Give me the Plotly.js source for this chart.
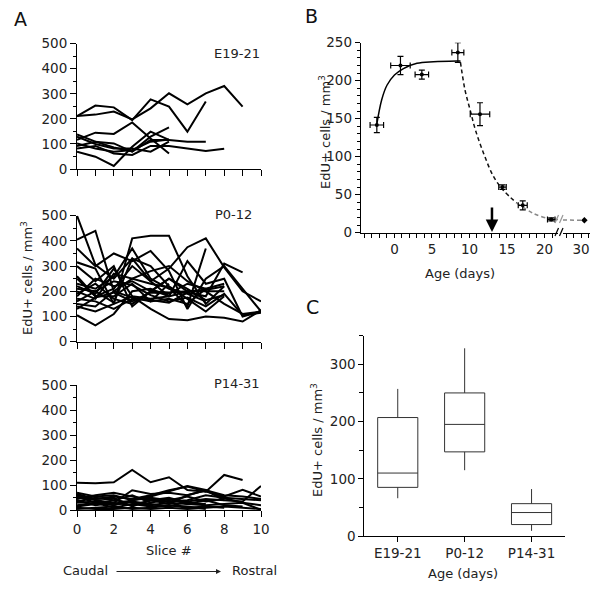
<!DOCTYPE html>
<html><head><meta charset="utf-8">
<script src="https://cdn.plot.ly/plotly-3.0.1.min.js"></script>
<style>html,body{margin:0;padding:0;background:#fff}#plot{width:604px;height:590px}</style>
</head><body><div id="plot"></div>
<script>
// ---------- Panel A: EdU+ density per slice ----------
const slices = [0,1,2,3,4,5,6,7,8,9,10];
const e19_21 = [
  [211,253,246,195,278,249,149,269],
  [211,217,229,198,242,302,258,302,331,249],
  [116,145,140,186,122,62],
  [138,109,86,70,129,166],
  [69,49,12,89,149,116],
  [92,109,102,69,116,116,109,109],
  [82,92,62,56,92,92,82,72,81],
  [129,100,82,82,69,109],
  [102,82,69,76,109,118]
];
const p0_12 = [
  [500,305,250,330,240,180],
  [405,440,200,175,160,230],
  [370,300,350,320,360,280,130,250,300,210,120],
  [315,290,150,410,420,420,260,150,220],
  [260,180,210,300,240,290,375,410,295,200,160],
  [230,210,258,370,250,210,190,160],
  [200,170,270,250,230,215,140,370],
  [180,250,220,240,200,195,200,205,220],
  [170,160,130,170,165,155,195,180,310,275],
  [140,120,150,180,130,90,85,100,95,80,125],
  [105,65,110,200,210,180,200,200,150,110,120],
  [220,190,290,180,170,180,320,230,250,100,120],
  [190,230,170,150,200,250,210,165,185],
  [150,140,200,250,280,300,240,200,200],
  [250,180,180,230,160,170,150,210,230],
  [210,200,155,330,300,220,170,120,180],
  [130,175,195,160,195,190,230,210],
  [300,240,300,140,200,250,200],
  [160,200,240,225,185,160,175,140,190,105,115]
];
const p14_31 = [
  [110,108,112,161,112,132,81,74,141,121],
  [70,55,60,40,55,75,97,81,48,30,2],
  [60,40,30,80,65,70,60,80,40,35,97],
  [50,45,55,45,60,80,95,75,55,82,55],
  [40,20,30,20,40,35,40,60,50,45,40],
  [20,30,10,25,15,20,10,15,10],
  [5,10,15,5,10,20,15,5],
  [35,50,40,60,30,45,25,40,20,15],
  [65,45,50,15,40,50,30,25],
  [10,5,5,10,5,10,5,10,15,10,5],
  [30,35,25,40,50,40,55,35,45],
  [45,60,70,55,40,25,60,80,60,55,45],
  [55,30,20,35,25,15,35,45,40],
  [15,25,40,30,20,30,25,20,25,30,20]
];
const groupLabels = ['E19-21','P0-12','P14-31'];

// ---------- Panel B: density vs age ----------
const ageX   = [-2.35, 0.8, 3.65, 8.45, 11.4, 14.4, 17.1, 20.9];
const ageY   = [141.7, 220, 208, 237, 156, 60, 36, 17.5];
const ageXErr= [0.9, 1.3, 0.9, 0.8, 1.3, 0.5, 0.6, 0.5];
const ageYErr= [10, 12, 6, 13, 15, 3, 6, 2];
const lateX = [30.45], lateY = [16.3];
const riseX = [-2.35,-1.7,-1.0,0,1.2,3.0,5.2,8.3,8.8];
const riseY = [143,175,194,207.5,216,222.9,225,226,226];
const decayX = [8.8,9.4,10.1,10.8,11.9,13.2,14.5,16.3];
const decayY = [224,188,161,135,104,74,56,39];
const tailX = [16.3,18.5,20.8,21.8];
const tailY = [39,25.5,18,17.5];
const tail2X = [27.6,30.45];
const tail2Y = [16.8,16.3];
const arrowAge = 13;

// ---------- Panel C: box summary ----------
const boxCats = ['E19-21','P0-12','P14-31'];
const boxLow  = [66, 115, 9];
const boxQ1   = [85, 147, 20];
const boxMed  = [110, 195, 41];
const boxQ3   = [207, 250, 56.5];
const boxHigh = [257, 328, 82];

const FONT = 'DejaVu Sans, Liberation Sans, Arial, sans-serif';
const W = 604, H = 590;
const px = v => v / W, py = v => (H - v) / H;

const traces = [];
function addGroup(arr, xa, ya){
  arr.forEach(vals => traces.push({
    x: slices.slice(0, vals.length), y: vals, xaxis: xa, yaxis: ya,
    mode: 'lines', line: {color: '#000', width: 2}, hoverinfo: 'skip', showlegend: false
  }));
}
addGroup(e19_21, 'x', 'y');
addGroup(p0_12, 'x2', 'y2');
addGroup(p14_31, 'x3', 'y3');

traces.push({x: riseX, y: riseY, xaxis: 'x4', yaxis: 'y4', mode: 'lines',
  line: {color: '#000', width: 1.5, shape: 'spline'}, showlegend: false});
traces.push({x: decayX, y: decayY, xaxis: 'x4', yaxis: 'y4', mode: 'lines',
  line: {color: '#111', width: 1.5, dash: '4px,3px', shape: 'spline'}, showlegend: false});
traces.push({x: tailX, y: tailY, xaxis: 'x4', yaxis: 'y4', mode: 'lines',
  line: {color: '#888', width: 1.5, dash: '4px,3px', shape: 'spline'}, showlegend: false});
traces.push({x: tail2X, y: tail2Y, xaxis: 'x5', yaxis: 'y4', mode: 'lines', cliponaxis: false,
  line: {color: '#888', width: 1.5, dash: '4px,3px'}, showlegend: false});
traces.push({x: ageX, y: ageY, xaxis: 'x4', yaxis: 'y4', mode: 'markers',
  marker: {color: '#000', size: 4},
  error_x: {type: 'data', array: ageXErr, visible: true, color: '#000', thickness: 1.2, width: 3},
  error_y: {type: 'data', array: ageYErr, visible: true, color: '#000', thickness: 1.2, width: 3},
  showlegend: false});
traces.push({x: lateX, y: lateY, xaxis: 'x5', yaxis: 'y4', mode: 'markers', cliponaxis: false,
  marker: {color: '#000', size: 5, symbol: 'diamond'}, showlegend: false});

traces.push({type: 'box', x: boxCats, q1: boxQ1, median: boxMed, q3: boxQ3,
  lowerfence: boxLow, upperfence: boxHigh, xaxis: 'x6', yaxis: 'y5',
  boxpoints: false, width: 0.6, whiskerwidth: 0, fillcolor: 'rgba(0,0,0,0)',
  line: {color: '#333', width: 1}, showlegend: false, hoverinfo: 'skip'});

const base = {showline: true, linecolor: '#000', linewidth: 1, ticks: 'outside', tickcolor: '#000',
  ticklen: 6, showgrid: false, zeroline: false, tickfont: {family: FONT, size: 13.5, color: '#222'}, fixedrange: true};
const ax = o => Object.assign({}, base, o);
const xA = d => ax({domain: [px(77), px(261)], range: [0, 10], dtick: 2, tick0: 0, anchor: d,
  minor: {dtick: 1, ticklen: 6, ticks: 'outside', tickcolor: '#000'}});
const yA = (lo, hi, a) => ax({domain: [py(lo), py(hi)], range: [0, 500], dtick: 100, anchor: a,
  minor: {dtick: 50, ticklen: 3, ticks: 'outside', tickcolor: '#000'}});

const layout = {
  width: W, height: H, margin: {l: 0, r: 0, t: 0, b: 0},
  paper_bgcolor: '#fff', plot_bgcolor: 'rgba(0,0,0,0)', showlegend: false,
  font: {family: FONT, size: 13.5, color: '#222'},
  xaxis: Object.assign(xA('y'), {showticklabels: false}),
  yaxis: yA(169, 43.7, 'x'),
  xaxis2: Object.assign(xA('y2'), {showticklabels: false}),
  yaxis2: yA(341.7, 215.7, 'x2'),
  xaxis3: xA('y3'),
  yaxis3: yA(510.3, 385, 'x3'),
  xaxis4: ax({domain: [px(360.7), px(558)], range: [-4.5, 21.8], tickvals: [0,5,10,15,20], anchor: 'y4', ticklen: 4,
    minor: {dtick: 1, tick0: 0, ticklen: 4, ticks: 'outside', tickcolor: '#000'}}),
  xaxis5: ax({domain: [px(563), px(590)], range: [27.6, 31.2], tickvals: [30], anchor: 'y4', ticklen: 4,
    minor: {dtick: 1, tick0: 0, ticklen: 4, ticks: 'outside', tickcolor: '#000'}}),
  yaxis4: ax({domain: [py(232.7), py(42.7)], range: [0, 250], dtick: 50, anchor: 'x4', ticklen: 5,
    minor: {dtick: 10, ticklen: 3, ticks: 'outside', tickcolor: '#000'}}),
  xaxis6: ax({domain: [px(364.3), px(565)], range: [-0.5, 2.5], type: 'category', anchor: 'y5', ticklen: 5}),
  yaxis5: ax({domain: [py(536), py(335.7)], range: [0, 350], dtick: 100, anchor: 'x6', ticklen: 5,
    minor: {dtick: 50, ticklen: 4, ticks: 'outside', tickcolor: '#000'}}),
  shapes: [
    {type: 'line', xref: 'paper', yref: 'paper', x0: px(555), y0: py(236), x1: px(558.5), y1: py(228), line: {color: '#000', width: 1.2}},
    {type: 'line', xref: 'paper', yref: 'paper', x0: px(559.5), y0: py(236), x1: px(563), y1: py(228), line: {color: '#000', width: 1.2}},
    {type: 'line', xref: 'paper', yref: 'paper', x0: px(555), y0: py(223), x1: px(558.5), y1: py(215), line: {color: '#999', width: 1.2}},
    {type: 'line', xref: 'paper', yref: 'paper', x0: px(559.5), y0: py(223), x1: px(563), y1: py(215), line: {color: '#999', width: 1.2}}
  ],
  annotations: []
};

const ann = (text, x, y, o) => layout.annotations.push(Object.assign({text, x: px(x), y: py(y),
  xref: 'paper', yref: 'paper', xanchor: 'center', yanchor: 'middle', showarrow: false,
  font: {family: FONT, size: 13, color: '#222'}}, o || {}));
// panel letters
ann('A', 20, 19, {font: {family: FONT, size: 19, color: '#111'}});
ann('B', 311, 16, {font: {family: FONT, size: 19, color: '#111'}});
ann('C', 312, 307, {font: {family: FONT, size: 19, color: '#111'}});
// group labels
ann(groupLabels[0], 262, 53, {xanchor: 'right'});
ann(groupLabels[1], 254, 214, {xanchor: 'right'});
ann(groupLabels[2], 262, 383, {xanchor: 'right'});
// axis titles
const yt = 'EdU+ cells / mm<sup>3</sup>';
ann(yt, 27, 278, {textangle: -90});
ann(yt, 325, 132, {textangle: -90});
ann(yt, 317, 440, {textangle: -90});
ann('Slice #', 169, 550);
ann('Age (days)', 460, 273);
ann('Age (days)', 463, 573);
ann('Caudal', 85, 570);
ann('Rostral', 254, 570);
// caudal -> rostral arrow
layout.annotations.push({x: px(221), y: py(571.5), xref: 'paper', yref: 'paper', text: '', showarrow: true,
  ax: -106, ay: 0, arrowhead: 2, arrowsize: 1, arrowwidth: 1, arrowcolor: '#222'});
// age arrow in B
layout.annotations.push({x: arrowAge, y: 1, xref: 'x4', yref: 'y4', axref: 'x4', ayref: 'y4',
  ax: arrowAge, ay: 35, text: '', showarrow: true, arrowhead: 2, arrowsize: 1, arrowwidth: 2.5, arrowcolor: '#000'});

Plotly.newPlot('plot', traces, layout, {staticPlot: true, displayModeBar: false});
</script></body></html>
